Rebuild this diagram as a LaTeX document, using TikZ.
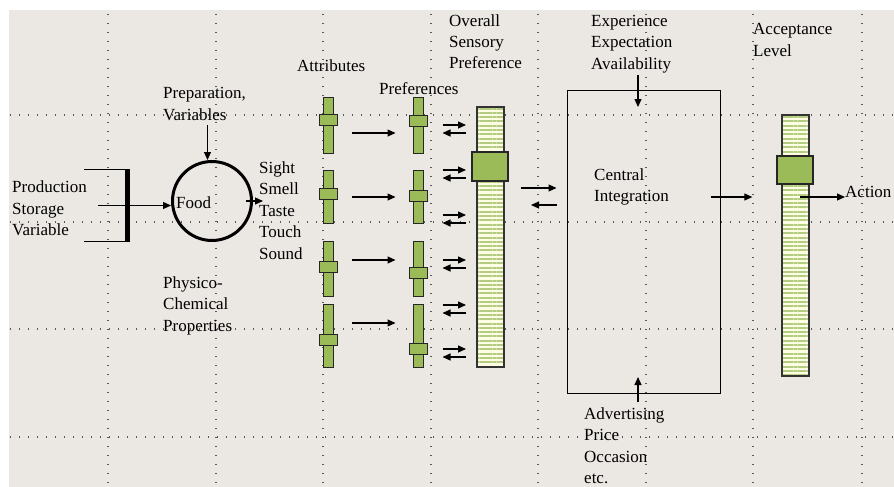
\documentclass[tikz,border=0pt]{standalone}
\usepackage{fontspec}
\setmainfont{Liberation Serif}
\usetikzlibrary{arrows.meta,patterns.meta}
\definecolor{PaperGrey}{HTML}{EBE7E3}
\definecolor{KnobGreen}{HTML}{9BBB59}
\definecolor{StripeGreen}{HTML}{B3CC82}
\definecolor{StripePale}{HTML}{FCFDE2}

\begin{document}
\begin{tikzpicture}[x=1pt,y=-1pt,>={Triangle[length=8pt,width=7pt]},
  lbl/.style={inner sep=0pt,align=left,anchor=base west,font=\fontsize{17}{21.5}\selectfont},
  griddots/.style={line width=1.2pt,dash pattern=on 1.2pt off 7.8pt,black!65},
  arr/.style={->,line width=1.1pt},
  rod/.style={draw=black!85,line width=1pt,fill=KnobGreen,minimum width=10pt,inner sep=0pt},
  knob/.style={draw=black!85,line width=1pt,fill=KnobGreen,minimum width=18pt,minimum height=11pt,inner sep=0pt},
  gauge/.style={draw=black!80,line width=1.3pt,preaction={fill=StripePale},
    pattern={Lines[angle=0,distance=4.3pt,line width=2pt]},pattern color=StripeGreen,
    minimum width=27pt,minimum height=260pt,inner sep=0pt},
  bigknob/.style={draw=black!85,line width=1.1pt,fill=KnobGreen,minimum width=36pt,minimum height=29pt,inner sep=0pt}]
  \useasboundingbox (0,0) rectangle (894,487);
  \fill[white] (0,0) rectangle (894,487);
  \fill[PaperGrey] (9,10) rectangle (894,487);
  % dotted grid
  \foreach \x in {108,216,323,431,538,646,753,862}
    \draw[griddots] (\x,14) -- (\x,487);
  \foreach \y in {115,222,329,437}
    \draw[griddots] (10,\y) -- (894,\y);

  % food and its inputs
  \node[lbl] (prod) at (12,235.5) {Production\\Storage\\Variable};
  \node[fill=black,minimum width=5pt,minimum height=71pt,inner sep=0pt] (brk) at (127.5,205.5) {};
  \node[draw,circle,line width=3pt,minimum size=79pt] (food) at (212,201) {};
  \node[lbl] (foodtxt) at (176,208) {Food};
  \node[lbl] (prep) at (163,120.5) {Preparation,\\Variables};
  \node[lbl] (phys) at (163,331) {Physico-\\Chemical\\Properties};
  \node[lbl] (sns) at (259,259) {Sight\\Smell\\Taste\\Touch\\Sound};
  \draw[line width=1pt] (brk.north east) -- ++(-46,0);
  \draw[line width=1pt] (brk.south east) -- ++(-46,0);
  \draw[arr,shorten <=-27pt] (brk.west) -- (food.west |- brk.west);
  \draw[arr,shorten <=4pt] ([xshift=3pt]prep.south) -- ([xshift=3pt]prep.south |- food.north);
  \draw[arr,shorten <=-7pt,shorten >=-4pt] (food.east) -- (food.east -| sns.west);

  % attributes and preferences
  \node[lbl] (attr) at (297,72) {Attributes};
  \node[lbl] (pref) at (379,94) {Preferences};
  \node[rod,minimum height=56pt] (a1) at (328.5,125) {};
  \node[knob] (a1k) at (328.5,119.5) {};
  \node[rod,minimum height=56pt] (p1) at (418.5,125) {};
  \node[knob] (p1k) at (418.5,120.5) {};
  \node[rod,minimum height=53pt] (a2) at (328.5,196.5) {};
  \node[knob] (a2k) at (328.5,193.5) {};
  \node[rod,minimum height=53pt] (p2) at (418.5,196.5) {};
  \node[knob] (p2k) at (418.5,195.5) {};
  \node[rod,minimum height=55pt] (a3) at (328.5,268.5) {};
  \node[knob] (a3k) at (328.5,266.5) {};
  \node[rod,minimum height=55pt] (p3) at (418.5,268.5) {};
  \node[knob] (p3k) at (418.5,272.5) {};
  \node[rod,minimum height=63pt] (a4) at (328.5,335.5) {};
  \node[knob] (a4k) at (328.5,340) {};
  \node[rod,minimum height=63pt] (p4) at (418.5,335.5) {};
  \node[knob] (p4k) at (418.5,348.5) {};
  \draw[arr,shorten <=17.5pt,shorten >=17.5pt] (a1.east |- 0,133) -- (p1.west |- 0,133);
  \draw[arr,shorten <=17.5pt,shorten >=17.5pt] (a2.east |- 0,197) -- (p2.west |- 0,197);
  \draw[arr,shorten <=17.5pt,shorten >=17.5pt] (a3.east |- 0,260) -- (p3.west |- 0,260);
  \draw[arr,shorten <=17.5pt,shorten >=17.5pt] (a4.east |- 0,323) -- (p4.west |- 0,323);

  % overall sensory preference
  \node[lbl] (ovlbl) at (449,69) {Overall\\Sensory\\Preference};
  \node[gauge] (ov) at (490.5,237) {};
  \node[bigknob] (ovk) at (490,166.5) {};
  \foreach \y in {125,170,215,260,305,349} {
    \draw[arr,shorten <=18.5pt,shorten >=10pt] (p1.east |- 0,\y) -- (ov.west |- 0,\y);
    \draw[arr,shorten <=10pt,shorten >=18.5pt] (ov.west |- 0,\y+8) -- (p1.east |- 0,\y+8);
  }

  % central integration
  \node[draw,line width=1pt,minimum width=153pt,minimum height=303pt,inner sep=0pt] (cen) at (643.5,241.5) {};
  \node[lbl] (cenlbl) at (594,201.5) {Central\\Integration};
  \node[lbl] (expt) at (591,69.5) {Experience\\Expectation\\Availability};
  \node[lbl] (adv) at (584,483.5) {Advertising\\Price\\Occasion\\etc.};
  \coordinate (expin) at (638,107);
  \coordinate (advin) at (638,377);
  \draw[arr,shorten <=2pt] (expt.south -| expin) -- (expin);
  \draw[arr,shorten <=5pt] (adv.north -| advin) -- (advin);
  \draw[arr,shorten <=16pt,shorten >=10pt] (ov.east |- 0,188) -- (cen.west |- 0,188);
  \draw[arr,shorten <=10pt,shorten >=26pt] (cen.west |- 0,205) -- (ov.east |- 0,205);

  % acceptance
  \node[lbl] (acclbl) at (753,56.5) {Acceptance\\Level};
  \node[gauge,minimum height=261pt] (acc) at (795.5,245.5) {};
  \node[bigknob,minimum height=28pt] (acck) at (795,170) {};
  \node[lbl] (act) at (845,197) {Action};
  \draw[arr,shorten <=-10pt,shorten >=29pt] (cen.east |- 0,197) -- (acc.west |- 0,197);
  \draw[arr,shorten <=4.5pt] (acc.center |- act.base) -- (act.base west);
\end{tikzpicture}
\end{document}
